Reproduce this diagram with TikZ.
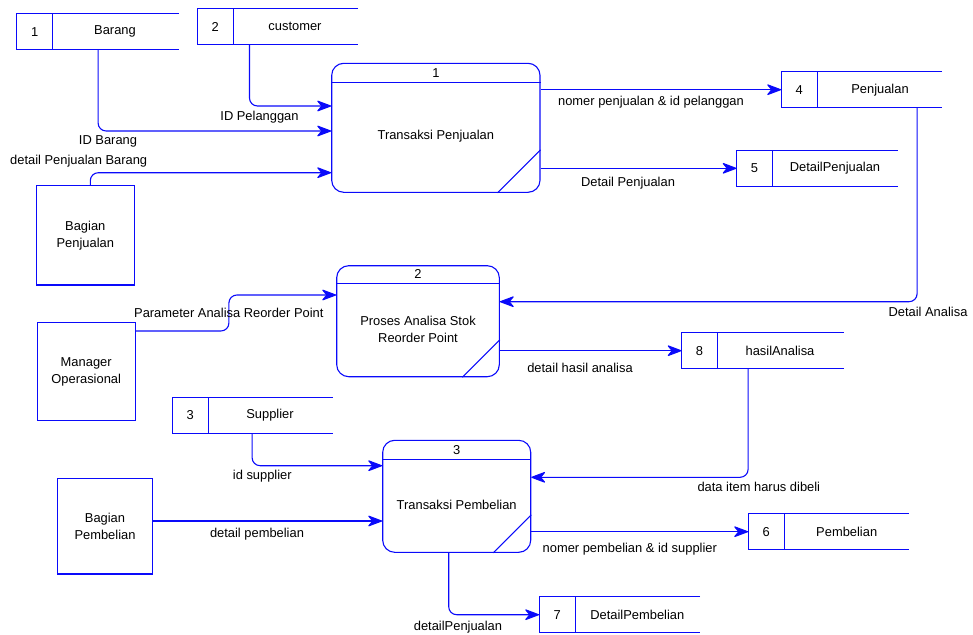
\documentclass[tikz,border=0pt]{standalone}
\usepackage{fontspec}
\setmainfont{Liberation Sans}
\usetikzlibrary{arrows.meta}

\definecolor{dfdblue}{RGB}{10,10,250}

\tikzset{
  every node/.style={font=\fontsize{12.9}{17}\selectfont, text=black, inner sep=0pt},
  ln/.style={draw=dfdblue, line width=1.1pt},
  flow/.style={ln, rounded corners=8pt, -{Stealth[length=16pt,width=12pt,inset=5pt,round]}},
  entity/.style={ln, rectangle, align=center},
  procbox/.style={ln, rectangle, rounded corners=12pt},
  holder/.style={rectangle, draw=none},
}

% data store: open on the right, with a divider after the number
% #1 name, #2 left, #3 top, #4 right, #5 number, #6 label, #7 label centre x
\newcommand\datastore[7]{%
  \node[holder, minimum width={(#4-#2)*1pt}, minimum height=36pt]
    (#1) at ({(#2+#4)/2},{#3+18}) {};
  \draw[ln] (#1.north east) -- (#1.north west) -- (#1.south west) -- (#1.south east);
  \draw[ln] ([xshift=36pt]#1.north west) -- ([xshift=36pt]#1.south west);
  \node (#1n) at ([xshift=18pt]#1.west) {#5};
  \node (#1l) at (#7,{#3+18}) {#6};
}

% process: rounded box with a header strip and a corner slash
% #1 name, #2 left, #3 top, #4 right, #5 bottom, #6 header height, #7 slash size, #8 number
\newcommand\process[8]{%
  \node[procbox, minimum width={(#4-#2)*1pt}, minimum height={(#5-#3)*1pt}]
    (#1) at ({(#2+#4)/2},{(#3+#5)/2}) {};
  \draw[ln] ([yshift=-#6pt]#1.north west) -- ([yshift=-#6pt]#1.north east);
  \draw[ln] ([xshift=-#7pt]#1.south east) -- ([yshift=#7pt]#1.south east);
  \node (#1n) at ([yshift={-#6*0.5pt}]#1.north) {#8};
}

\begin{document}
\begin{tikzpicture}[x=1pt, y=-1pt]
\useasboundingbox (0,0) rectangle (973,634);

% data stores
\datastore{s1}{17}{13.7}{179}{1}{Barang}{115}
\datastore{s2}{197.3}{8.7}{358}{2}{customer}{295}
\datastore{s4}{781.3}{71.7}{942}{4}{Penjualan}{880}
\datastore{s5}{736.7}{150.3}{897.3}{5}{DetailPenjualan}{835}
\datastore{s8}{681.7}{332.7}{843.3}{8}{hasilAnalisa}{780}
\datastore{s3}{172.3}{397.3}{332.7}{3}{Supplier}{270}
\datastore{s6}{748.3}{513.7}{909}{6}{Pembelian}{846.7}
\datastore{s7}{539.3}{596.7}{700}{7}{DetailPembelian}{637.3}

% processes
\process{p1}{331.7}{63.3}{540}{192.3}{20}{43}{1}
\node (p1t) at (435.8,136) {Transaksi Penjualan};
\process{p2}{336.7}{265.7}{499.3}{376.7}{18.6}{37.5}{2}
\node[align=center] (p2t) at (418,329) {Proses Analisa Stok\\Reorder Point};
\process{p3}{382.7}{440.3}{530.7}{552.3}{20}{38}{3}
\node (p3t) at (456.7,505) {Transaksi Pembelian};

% external entities
\node[entity, minimum width=98pt, minimum height=99.3pt] (bpj) at (85.3,235.3) {Bagian\\Penjualan};
\node[entity, minimum width=97.7pt, minimum height=98.4pt] (mo) at (86.2,371.5) {Manager\\Operasional};
\node[entity, minimum width=94.6pt, minimum height=95.3pt] (bpb) at (105,526.3) {Bagian\\Pembelian};

% flows into process 1
\draw[flow] ([xshift=52.4pt]s2.south west) |- ([yshift=21.8pt]p1.west);
\draw[flow] ([xshift=81.3pt]s1.south west) |- ([yshift=-3.2pt]p1.west);
\draw[flow] ([xshift=5pt]bpj.north) |- ([yshift=-44.9pt]p1.west);
\node (l1) at (259.5,116.7) {ID Pelanggan};
\node (l2) at (108,141.7) {ID Barang};
\node (l3) at (78.7,161) {detail Penjualan Barang};

% flows out of process 1
\draw[flow] (p1.east |- s4.west) -- (s4.west);
\draw[flow] (p1.east |- s5.west) -- (s5.west);
\node (l4) at (651,101.7) {nomer penjualan \& id pelanggan};
\node (l5) at (628,183.3) {Detail Penjualan};

% process 2
\draw[flow] ([xshift=136pt]s4.south west) |- ([yshift=19.5pt]p2.east);
\node (l6) at (928,311.7) {Detail Analisa};
\draw[flow] ([yshift=40.5pt]mo.east) -- ++(93.3,0) |- ([yshift=26.2pt]p2.west);
\node (l7) at (228.8,313.3) {Parameter Analisa Reorder Point};
\draw[flow] (p2.east |- s8.west) -- (s8.west);
\node (l8) at (580,367.7) {detail hasil analisa};

% process 3
\draw[flow] ([xshift=66.6pt]s8.south west) |- ([yshift=19pt]p3.east);
\node (l9) at (758.8,487.3) {data item harus dibeli};
\draw[flow] ([xshift=80pt]s3.south west) |- ([yshift=30.6pt]p3.west);
\node (l10) at (262.3,476) {id supplier};
\draw[flow] ([yshift=5.3pt]bpb.east) -- ([yshift=-24.7pt]p3.west);
\node (l11) at (257,533.7) {detail pembelian};
\draw[flow] (p3.east |- s6.west) -- (s6.west);
\node (l12) at (629.8,549) {nomer pembelian \& id supplier};
\draw[flow] ([xshift=-8pt]p3.south) |- (s7.west);
\node (l13) at (458,627) {detailPenjualan};
\end{tikzpicture}
\end{document}
